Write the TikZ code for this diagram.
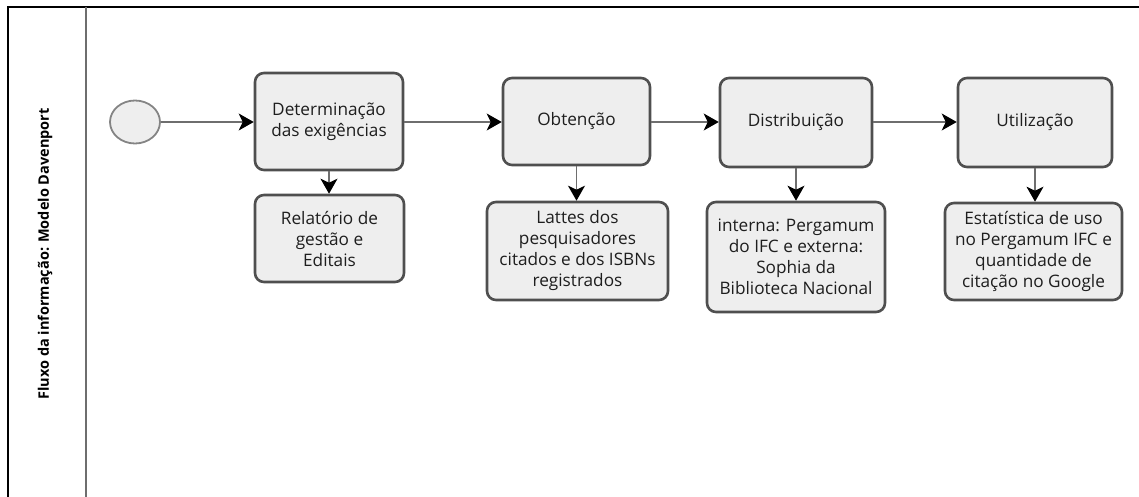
\documentclass[tikz,border=0pt]{standalone}
\usepackage{fontspec}
\setmainfont{Open Sans}
\usetikzlibrary{arrows.meta,shapes.geometric}
\definecolor{boxfill}{HTML}{EEEEEE}
\definecolor{boxline}{HTML}{4F4F4F}
\definecolor{conn}{HTML}{6E6E6E}
\definecolor{txt}{HTML}{1E1E1E}
\tikzset{
  task/.style={draw=boxline, line width=2.6pt, fill=boxfill, rounded corners=9pt,
    align=center, text=txt, font=\fontsize{17.2}{21}\selectfont, inner sep=1pt},
  flow/.style={draw=conn, line width=1.4pt,
    -{Stealth[length=15pt,width=17pt,inset=4pt,black]}},
}
\begin{document}
\begin{tikzpicture}[x=1pt,y=-1pt]
\useasboundingbox (0,0) rectangle (1139,497);
% frame
\draw[line width=2.6pt,black] (8,497) -- (8,7) -- (1139,7);
\draw[line width=1.5pt,conn] (86,7) -- (86,497);
\node[rotate=90, font=\bfseries\fontsize{14.5}{16}\selectfont, text=black] (lane) at (45,254) {Fluxo da informação: Modelo Davenport};
% start
\node[ellipse, draw=conn!85, line width=1.8pt, fill=boxfill, minimum width=50pt, minimum height=43pt, inner sep=0pt] (start) at (135,122) {};
% tasks
\node[task, minimum width=148pt, minimum height=97pt] (b1) at (329,121.5) {Determinação\\das exigências};
\node[task, minimum width=149pt, minimum height=87pt] (s1) at (329.5,238.5) {Relatório de\\gestão e\\Editais};
\node[task, minimum width=147pt, minimum height=87pt] (b2) at (576.5,121.5) {Obtenção};
\node[task, minimum width=181pt, minimum height=98pt] (s2) at (577.5,251) {Lattes dos\\pesquisadores\\citados e dos ISBNs\\registrados};
\node[task, minimum width=152pt, minimum height=89pt] (b3) at (796,122.5) {Distribuição};
\node[task, minimum width=178pt, minimum height=110pt] (s3) at (796,257) {interna: Pergamum\\do IFC e externa:\\Sophia da\\Biblioteca Nacional};
\node[task, minimum width=154pt, minimum height=89pt] (b4) at (1035,122.5) {Utilização};
\node[task, minimum width=177pt, minimum height=97pt] (s4) at (1033.5,251.5) {Estatística de uso\\no Pergamum IFC e\\quantidade de\\citação no Google};
% connectors
\draw[flow] (start.east) -- (b1.west |- start.east);
\draw[flow] (b1.east |- start.east) -- (b2.west |- start.east);
\draw[flow] (b2.east |- start.east) -- (b3.west |- start.east);
\draw[flow] (b3.east |- start.east) -- (b4.west |- start.east);
\draw[flow] (b1.south) -- (b1.south |- s1.north);
\draw[flow] (b2.south) -- (b2.south |- s2.north);
\draw[flow] (b3.south) -- (b3.south |- s3.north);
\draw[flow] (b4.south) -- (b4.south |- s4.north);
\end{tikzpicture}
\end{document}
